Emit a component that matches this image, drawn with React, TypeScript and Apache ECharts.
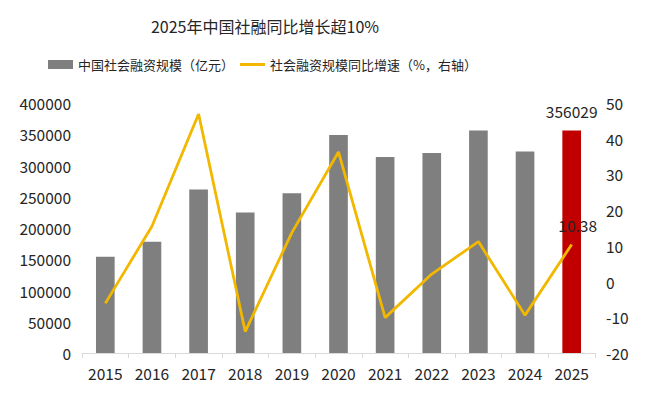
import React, { useEffect, useRef } from "react";
import * as echarts from "echarts";

const years = ["2015", "2016", "2017", "2018", "2019", "2020", "2021", "2022", "2023", "2024", "2025"];
const financing = [154086, 178022, 261536, 224920, 255753, 348633, 313408, 320101, 355910, 322559, 356029];
const growth = [-6.1, 15.5, 46.9, -14.0, 13.7, 36.3, -10.1, 2.1, 11.2, -9.4, 10.38];
const barName = "中国社会融资规模（亿元）";
const lineName = "社会融资规模同比增速（%，右轴）";
const titleText = "2025年中国社融同比增长超10%";

const FONT = "Noto Sans CJK SC";
const TXT = "#262626";
const LINE = "#f2b800";

export default function App() {
  const ref = useRef<HTMLDivElement>(null);
  useEffect(() => {
    if (!ref.current) return;
    const chart = echarts.init(ref.current, undefined, { renderer: "svg" });
    const last = years.length - 1;
    chart.setOption({
      animation: false,
      backgroundColor: "#ffffff",
      textStyle: { fontFamily: FONT, color: TXT },
      title: {
        text: titleText,
        left: 260,
        top: 13,
        textAlign: "center",
        textStyle: { fontFamily: FONT, fontSize: 16, fontWeight: "normal", color: TXT },
      },
      legend: {
        left: 48,
        top: 58,
        padding: 0,
        itemWidth: 25,
        itemHeight: 9,
        itemGap: 6,
        symbolKeepAspect: true,
        textStyle: { fontFamily: FONT, fontSize: 13, color: TXT },
        data: [
          { name: barName, icon: "rect", itemStyle: { color: "#7f7f7f" } },
          { name: lineName, icon: "path://M0,0h25v3h-25z", itemStyle: { color: LINE } },
        ],
      },
      grid: { left: 82, right: 55, top: 103, bottom: 43 },
      xAxis: {
        type: "category",
        data: years,
        axisLine: { lineStyle: { color: "#d9d9d9" } },
        axisTick: { show: true, length: 5, lineStyle: { color: "#d9d9d9" } },
        axisLabel: { fontFamily: FONT, fontSize: 15.5, color: TXT, margin: 12 },
      },
      yAxis: [
        {
          type: "value",
          min: 0,
          max: 400000,
          interval: 50000,
          splitLine: { show: false },
          axisLine: { show: false },
          axisTick: { show: false },
          axisLabel: {
            fontFamily: FONT,
            fontSize: 15.5,
            color: TXT,
            margin: 11,
            formatter: (v: number) => String(v),
          },
        },
        {
          type: "value",
          min: -20,
          max: 50,
          interval: 10,
          splitLine: { show: false },
          axisLine: { show: false },
          axisTick: { show: false },
          axisLabel: {
            fontFamily: FONT,
            fontSize: 15.5,
            color: TXT,
            margin: 11,
            formatter: (v: number) => String(v),
          },
        },
      ],
      series: [
        {
          name: barName,
          type: "bar",
          barWidth: "40%",
          itemStyle: { color: "#7f7f7f" },
          data: financing.map((v, i) =>
            i === last
              ? {
                  value: v,
                  itemStyle: { color: "#c00000" },
                  label: {
                    show: true,
                    position: "top",
                    distance: 12,
                    fontFamily: FONT,
                    fontSize: 15.5,
                    color: TXT,
                    formatter: (p: any) => String(p.value),
                  },
                }
              : v
          ),
        },
        {
          name: lineName,
          type: "line",
          yAxisIndex: 1,
          symbol: "circle",
          symbolSize: 0.1,
          showSymbol: true,
          lineStyle: { color: LINE, width: 2.8 },
          itemStyle: { color: LINE },
          label: { show: false },
          data: growth.map((v, i) =>
            i === last
              ? {
                  value: v,
                  label: {
                    show: true,
                    position: "top",
                    distance: 12,
                    offset: [6, 0],
                    fontFamily: FONT,
                    fontSize: 15.5,
                    color: TXT,
                    formatter: (p: any) => String(p.value),
                  },
                }
              : v
          ),
        },
      ],
    });
    return () => chart.dispose();
  }, []);
  return <div ref={ref} style={{ width: 650, height: 396, position: "absolute", left: 0, top: 0 }} />;
}
